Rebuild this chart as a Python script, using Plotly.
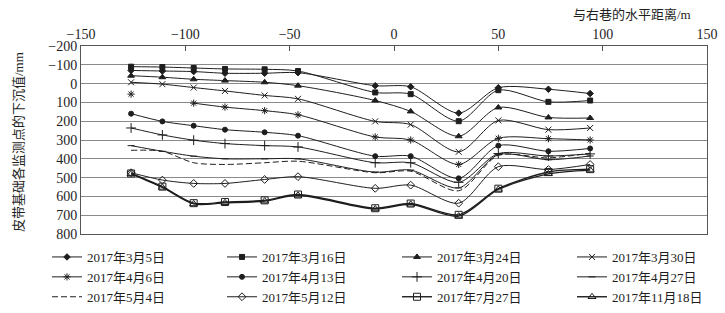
import plotly.graph_objects as go

x_pos = [-126, -111, -96, -81, -62, -46, -9, 8, 31, 50, 74, 94]

s_0305 = [-70, -67, -64, -55, -55, -58, 11, 17, 157, 22, 30, 53]
s_0316 = [-90, -88, -83, -78, -76, -67, 47, 56, 200, 35, 97, 90]
s_0324 = [-42, -34, -23, -16, -7, 11, 90, 148, 280, 127, 180, 183]
s_0330 = [-7, 3, 21, 39, 63, 81, 201, 218, 363, 196, 245, 236]
s_0406 = [56, None, 104, 125, 144, 166, 284, 300, 430, 291, 293, 300]
s_0413 = [160, 201, 224, 245, 259, 277, 386, 386, 504, 330, 360, 345]
s_0420 = [236, 273, 301, 319, 330, 337, 421, 421, 525, 372, 385, 374]
s_0427 = [330, 360, 386, 400, 400, 400, 471, 460, 555, 378, 405, 385]
s_0504 = [355, 360, 421, 430, 421, 413, 474, 466, 570, 382, 395, 370]
s_0512 = [474, 513, 531, 531, 510, 495, 557, 540, 636, 442, 457, 430]
s_0727 = [478, 548, 636, 630, 621, 590, 663, 638, 698, 559, 470, 455]
s_1118 = [480, 552, 640, 634, 625, 594, 667, 642, 705, 563, 480, 460]

names = ["2017年3月5日", "2017年3月16日", "2017年3月24日", "2017年3月30日",
         "2017年4月6日", "2017年4月13日", "2017年4月20日", "2017年4月27日",
         "2017年5月4日", "2017年5月12日", "2017年7月27日", "2017年11月18日"]
series = [s_0305, s_0316, s_0324, s_0330, s_0406, s_0413, s_0420, s_0427,
          s_0504, s_0512, s_0727, s_1118]

y_ticks = list(range(-200, 801, 100))
x_ticks = list(range(-150, 151, 50))

FONT = "Liberation Serif, Noto Sans CJK SC, serif"
INK = "#1e1e1e"

styles = [
    dict(symbol="diamond", size=5, lw=1),
    dict(symbol="square", size=5, lw=1),
    dict(symbol="triangle-up", size=6, lw=1),
    dict(symbol="x-thin-open", size=6, lw=1),
    dict(symbol="asterisk-open", size=6, lw=1),
    dict(symbol="circle", size=5, lw=1),
    dict(symbol="cross-thin-open", size=7, lw=1),
    dict(symbol="line-ew-open", size=5, lw=1),
    dict(symbol=None, size=0, lw=1, dash="6px,3px"),
    dict(symbol="diamond-open", size=6, lw=1),
    dict(symbol="square-open", size=7, lw=1.4),
    dict(symbol="triangle-up-open", size=7, lw=1.4),
]

fig = go.Figure()
for i, (nm, ys) in enumerate(zip(names, series)):
    st = styles[i]
    col = i % 4
    leg = "legend" if col == 0 else f"legend{col+1}"
    mode = "lines" if st["symbol"] is None else "lines+markers"
    mk = dict(color=INK, size=st["size"], line=dict(color=INK, width=1))
    if st["symbol"] is not None:
        mk["symbol"] = st["symbol"]
    fig.add_trace(go.Scatter(
        x=x_pos, y=ys, name=nm, mode=mode,
        line=dict(color=INK, width=st["lw"], shape="spline", smoothing=0.8,
                  dash=st.get("dash", "solid")),
        marker=mk, connectgaps=False, legend=leg,
        legendrank=i // 4,
    ))

ml, mr, mt, mb = 81, 18, 46, 79
W, H = 725, 313
pw, ph = W - ml - mr, H - mt - mb

col_px = [47, 222, 397, 572]
leg_top_px = 242
legends = {}
for c, px in enumerate(col_px):
    key = "legend" if c == 0 else f"legend{c+1}"
    legends[key] = dict(
        x=(px - ml) / pw, y=(mt + ph - leg_top_px) / ph,
        xanchor="left", yanchor="top", orientation="v",
        font=dict(family=FONT, size=13, color=INK),
        bgcolor="rgba(0,0,0,0)", borderwidth=0, tracegroupgap=0,
    )

fig.update_layout(
    width=W, height=H,
    margin=dict(l=ml, r=mr, t=mt, b=mb, autoexpand=False),
    paper_bgcolor="white", plot_bgcolor="white",
    font=dict(family=FONT, size=14, color=INK),
    showlegend=True,
    **legends,
)

fig.update_xaxes(
    side="top", range=[-150, 150], tickvals=x_ticks,
    ticks="inside", ticklen=5, tickcolor="#555", tickwidth=1,
    showgrid=False, zeroline=False,
    showline=True, mirror=True, linecolor="#555", linewidth=1,
    tickfont=dict(family=FONT, size=14, color=INK),
)
fig.update_yaxes(
    range=[800, -200], tickvals=y_ticks,
    showgrid=True, gridcolor="#8a8a8a", gridwidth=1,
    zeroline=False, ticks="",
    showline=True, mirror=True, linecolor="#555", linewidth=1,
    tickfont=dict(family=FONT, size=14, color=INK),
)

fig.add_annotation(
    text="与右巷的水平距离/m", xref="paper", yref="paper",
    x=(693 - ml) / pw, y=(mt + ph - 15) / ph, xanchor="right", yanchor="middle",
    showarrow=False, font=dict(family=FONT, size=13, color=INK),
)
fig.add_annotation(
    text="皮带基础各监测点的下沉值/mm", xref="paper", yref="paper",
    x=(18 - ml) / pw, y=(mt + ph - 142) / ph, xanchor="center", yanchor="middle",
    textangle=-90, showarrow=False, font=dict(family=FONT, size=13, color=INK),
)

fig.write_html("out.html")
